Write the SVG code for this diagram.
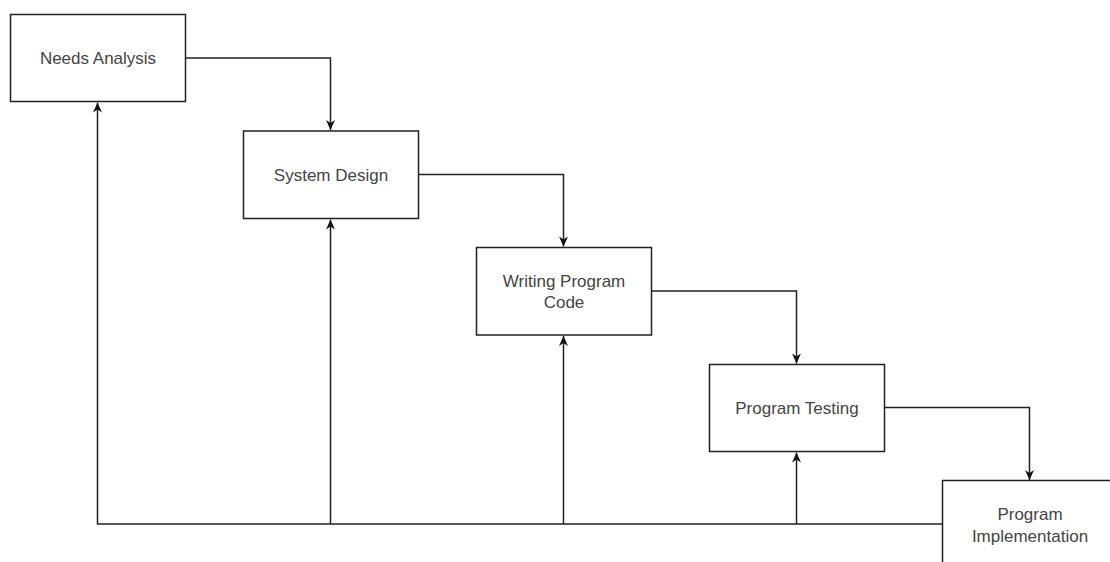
<svg xmlns="http://www.w3.org/2000/svg" width="1110" height="562" viewBox="0 0 1110 562">
<defs>
<marker id="arr" viewBox="0 0 10 10" refX="10" refY="5" markerWidth="10" markerHeight="9" markerUnits="userSpaceOnUse" orient="auto" preserveAspectRatio="none">
<path d="M0,0 L10,5 L0,10 L3,5 Z" fill="#111"/>
</marker>
</defs>
<style>
.box{fill:#fff;stroke:#222;stroke-width:1.5}
.lbl{font-family:"Liberation Sans",Arial,sans-serif;font-size:17px;fill:#444;text-anchor:middle}
.ln{fill:none;stroke:#222;stroke-width:1.5}
</style>
<rect width="1110" height="562" fill="#fff"/>
<g id="connectors">
<path class="ln" d="M185.5,58 H330.5 V130" marker-end="url(#arr)"/>
<path class="ln" d="M418.5,174.5 H563.5 V246.5" marker-end="url(#arr)"/>
<path class="ln" d="M651.5,291 H796.5 V363.5" marker-end="url(#arr)"/>
<path class="ln" d="M884.5,407.5 H1029.5 V480" marker-end="url(#arr)"/>
<path class="ln" d="M942.5,524 H97.5 V102.5" marker-end="url(#arr)"/>
<path class="ln" d="M330.5,524 V219.5" marker-end="url(#arr)"/>
<path class="ln" d="M563.5,524 V336" marker-end="url(#arr)"/>
<path class="ln" d="M796.5,524 V452.5" marker-end="url(#arr)"/>
</g>
<g id="needs-analysis">
<rect class="box" x="10.5" y="14.5" width="175" height="87"/>
<text class="lbl" x="98" y="64">Needs Analysis</text>
</g>
<g id="system-design">
<rect class="box" x="243.5" y="131" width="175" height="87.5"/>
<text class="lbl" x="331" y="180.5">System Design</text>
</g>
<g id="writing-program-code">
<rect class="box" x="476.5" y="247.5" width="175" height="87.5"/>
<text class="lbl" x="564" y="287">Writing Program</text>
<text class="lbl" x="564" y="308">Code</text>
</g>
<g id="program-testing">
<rect class="box" x="709.5" y="364.5" width="175" height="87"/>
<text class="lbl" x="797" y="413.5">Program Testing</text>
</g>
<g id="program-implementation">
<rect class="box" x="942.5" y="480.5" width="175" height="87"/>
<text class="lbl" x="1030" y="520">Program</text>
<text class="lbl" x="1030" y="541.5">Implementation</text>
</g>
</svg>
